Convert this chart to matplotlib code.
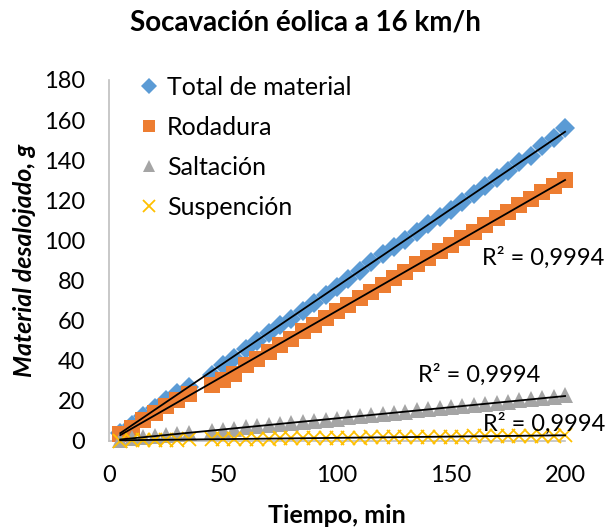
import numpy as np
import matplotlib
matplotlib.use("Agg")
import matplotlib.pyplot as plt

plt.rcParams['font.family'] = ['Lato', 'DejaVu Sans']

tiempo = [5, 10, 15, 20, 25, 30, 35, 45, 50, 55, 60, 65, 70, 75, 80, 85, 90, 95, 100,
          105, 110, 115, 120, 125, 130, 135, 140, 145, 150, 155, 160, 165, 170, 175,
          180, 185, 190, 195, 200]

total = [4, 8, 12.5, 16.5, 20.5, 24, 27, 33, 38, 41.5, 46, 50, 54, 58, 61, 65, 69, 73, 77,
         81, 85, 89, 93, 96.5, 100, 104, 108, 111.5, 115, 119, 123, 127, 131, 134.5,
         139, 142, 147, 151, 156]

rodadura = [3.5, 6.5, 10.5, 14, 17.5, 20.5, 23.5, 28, 30.5, 33.5, 38, 41, 44.5, 48, 51, 55,
            58, 61.5, 65, 68, 71.5, 74.5, 78, 81.5, 84.5, 88, 91, 94.5, 97.5, 101, 104,
            107.5, 111, 114, 117.5, 120.5, 124, 127, 130]

saltacion = [0.5, 1.5, 2.1, 2.7, 3.2, 3.7, 4.2, 5, 5.6, 6.2, 6.8, 7.3, 7.9, 8.4, 9, 9.6,
             10.1, 10.7, 11.2, 11.8, 12.4, 12.9, 13.5, 14, 14.6, 15.2, 15.7, 16.3, 16.8,
             17.4, 18, 18.5, 19.1, 19.6, 20.2, 20.8, 21.3, 21.9, 22.8]

suspencion = [0.2, 0.3, 0.4, 0.5, 0.6, 0.7, 0.8, 0.9, 1.0, 1.0, 1.1, 1.1, 1.2, 1.3, 1.3, 1.4,
              1.5, 1.5, 1.6, 1.6, 1.7, 1.8, 1.8, 1.9, 1.9, 2.0, 2.1, 2.1, 2.2, 2.2, 2.3,
              2.4, 2.4, 2.5, 2.6, 2.6, 2.7, 2.7, 2.8]

series_names = ["Total de material", "Rodadura", "Saltación", "Suspención"]
r2_labels = ["R² = 0,9994", "R² = 0,9994", "R² = 0,9994"]

x_ticks = [0, 50, 100, 150, 200]
y_ticks = [0, 20, 40, 60, 80, 100, 120, 140, 160, 180]

fig = plt.figure(figsize=(6.05, 5.29), dpi=100)
ax = fig.add_axes([0.180, 0.1664, 0.754, 0.6824])

x = np.array(tiempo, dtype=float)
styles = [
    dict(marker='D', color='#5B9BD5', ms=10),
    dict(marker='s', color='#ED7D31', ms=11),
    dict(marker='^', color='#A5A5A5', ms=11),
    dict(marker='x', color='#FFC000', ms=10),
]
data = [total, rodadura, saltacion, suspencion]
handles = []
for name, ys, st in zip(series_names, data, styles):
    h, = ax.plot(x, ys, linestyle='none', marker=st['marker'], color=st['color'],
                 markersize=st['ms'], markeredgewidth=1.3 if st['marker'] == 'x' else 0,
                 clip_on=False, label=name, zorder=3)
    handles.append(h)

for ys in data:
    c = np.polyfit(x, ys, 1)
    xx = np.array([x.min(), x.max()])
    ax.plot(xx, np.polyval(c, xx), color='black', lw=1.3, zorder=4, clip_on=False)

ax.set_xlim(0, 200)
ax.set_ylim(0, 180)
ax.set_xticks(x_ticks)
ax.set_yticks(y_ticks)
ax.tick_params(length=0, labelsize=17)
ax.tick_params(axis='y', pad=17)
ax.tick_params(axis='x', pad=17)
for s in ['top', 'right']:
    ax.spines[s].set_visible(False)
for s in ['left', 'bottom']:
    ax.spines[s].set_color('#BFBFBF')
    ax.spines[s].set_linewidth(1.2)

ax.text(163.6, 91.2, r2_labels[0], fontsize=17, va='center', ha='left')
ax.text(135.5, 32.9, r2_labels[1], fontsize=17, va='center', ha='left')
ax.text(164, 8.5, r2_labels[2], fontsize=17, va='center', ha='left', zorder=5)

leg = ax.legend(handles=handles, loc='upper left', bbox_to_anchor=(0.05, 1.04),
                frameon=False, fontsize=18, handlelength=0.6, handletextpad=0.4,
                labelspacing=0.68, borderaxespad=0, markerscale=0.85)

fig.text(0.505, 0.958, "Socavación éolica a 16 km/h", fontsize=20, fontweight='bold',
         ha='center', va='center')
fig.text(0.557, 0.025, "Tiempo, min", fontsize=18, fontweight='bold', ha='center', va='center')
fig.text(0.041, 0.508, "Material desalojado, g", fontsize=18, fontweight='bold',
         fontstyle='italic', rotation=90, ha='center', va='center')

fig.savefig("out.png", dpi=100)
